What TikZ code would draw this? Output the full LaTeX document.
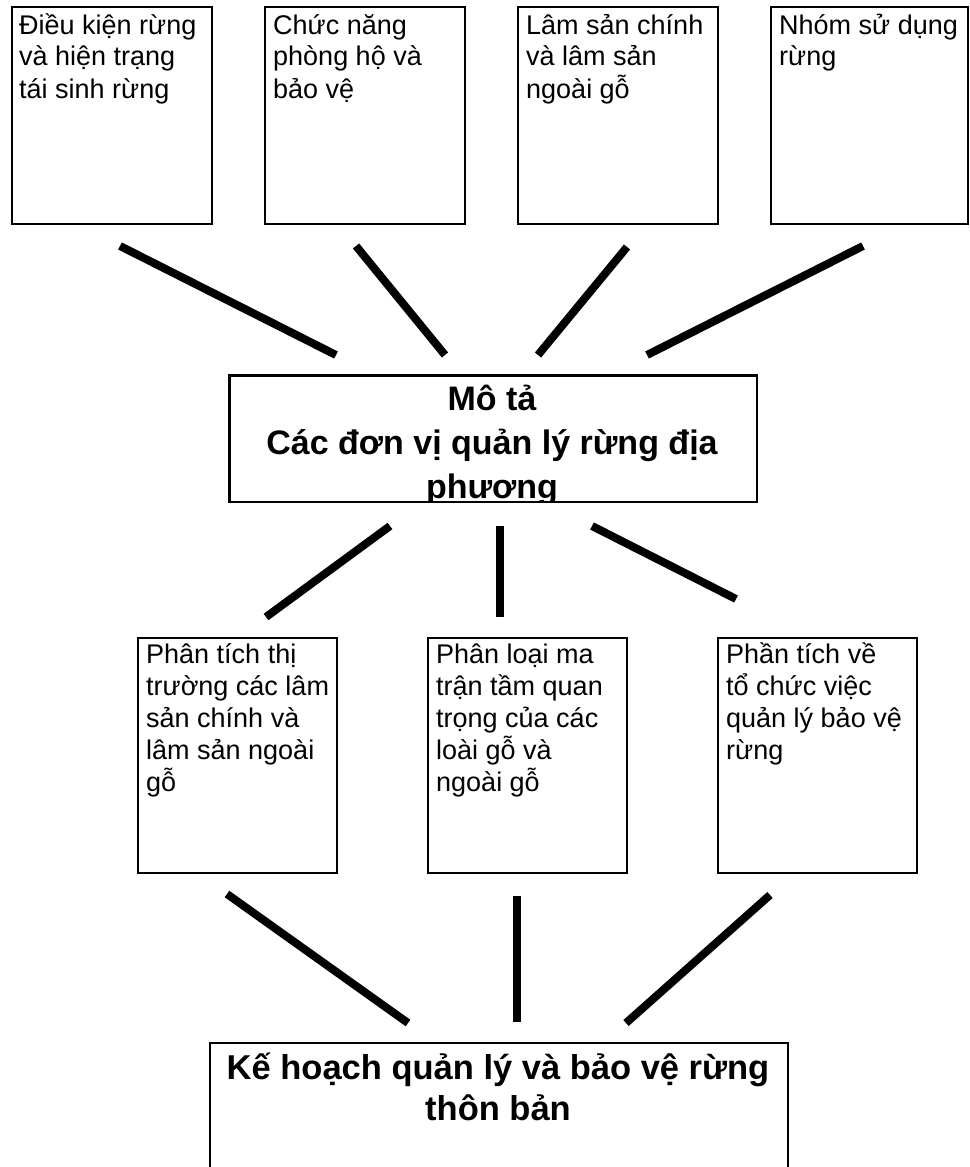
\documentclass[tikz,border=0pt]{standalone}
\usepackage{fontspec}
\setmainfont{Liberation Sans}
\newcommand{\lefttext}[1]{\parbox[t]{195pt}{\raggedright #1}}
\newcommand{\midtext}[1]{\parbox[t]{570pt}{\centering #1}}
\begin{document}
\begin{tikzpicture}[x=1pt,y=-1pt,
  box/.style={draw=black, line width=1.5pt, fill=white, inner sep=0pt, anchor=north west},
  smallbox/.style={box, minimum width=200pt, minimum height=217pt},
  midbox/.style={box, minimum width=199pt, minimum height=235pt},
  txt/.style={anchor=base west, inner sep=0pt, font=\fontsize{27}{32}\selectfont},
  boldtxt/.style={anchor=base, inner sep=0pt, font=\bfseries\fontsize{34}{44}\selectfont},
  link/.style={line width=8pt, black}]
\useasboundingbox (0,0) rectangle (969,1167);
% top boxes
\node[smallbox] (b1) at (11,6) {};
\node[smallbox] (b2) at (264,6) {};
\node[smallbox] (b3) at (517,6) {};
\node[smallbox, minimum width=197pt] (b4) at (770,6) {};
\node[txt] (b1t) at (19,34) {\lefttext{Điều kiện rừng\\và hiện trạng\\tái sinh rừng}};
\node[txt] (b2t) at (273,34) {\lefttext{Chức năng\\phòng hộ và\\bảo vệ}};
\node[txt] (b3t) at (526,34) {\lefttext{Lâm sản chính\\và lâm sản\\ngoài gỗ}};
\node[txt] (b4t) at (779,34) {\lefttext{Nhóm sử dụng\\rừng}};
% centre box
\node[box, minimum width=527pt, minimum height=126pt] (c) at (229,375) {};
\begin{scope}
\clip (c.north west) rectangle (c.south east);
\node[boldtxt] (ct) at (492,410) {\midtext{Mô tả\\Các đơn vị quản lý rừng địa\\phương}};
\end{scope}
\draw[line width=1.5pt] (c.north west) rectangle (c.south east);
% middle boxes
\node[midbox] (m1) at (137,637) {};
\node[midbox] (m2) at (427,637) {};
\node[midbox] (m3) at (717,637) {};
\node[txt] (m1t) at (146,663) {\lefttext{Phân tích thị\\trường các lâm\\sản chính và\\lâm sản ngoài\\gỗ}};
\node[txt] (m2t) at (436,663) {\lefttext{Phân loại ma\\trận tầm quan\\trọng của các\\loài gỗ và\\ngoài gỗ}};
\node[txt] (m3t) at (726,663) {\lefttext{Phần tích về\\tổ chức việc\\quản lý bảo vệ\\rừng}};
% bottom box
\node[box, minimum width=578pt, minimum height=140pt] (k) at (209,1042) {};
\node[boldtxt, font=\bfseries\fontsize{34.5}{41}\selectfont] (kt) at (498,1079) {\midtext{Kế hoạch quản lý và bảo vệ rừng\\thôn bản}};
% connector end points
\coordinate (l1a) at (120,246); \coordinate (l1b) at (336,355);
\coordinate (l2a) at (356,246); \coordinate (l2b) at (445,355);
\coordinate (l3a) at (627,247); \coordinate (l3b) at (538,355);
\coordinate (l4a) at (863,246); \coordinate (l4b) at (647,355);
\coordinate (l5a) at (390,526); \coordinate (l5b) at (266,617);
\coordinate (l6a) at (500,526); \coordinate (l6b) at (500,617);
\coordinate (l7a) at (592,526); \coordinate (l7b) at (736,599);
\coordinate (l8a) at (227,894); \coordinate (l8b) at (408,1023);
\coordinate (l9a) at (517,896); \coordinate (l9b) at (517,1022);
\coordinate (l10a) at (770,895); \coordinate (l10b) at (626,1023);
\draw[link] (l1a) -- (l1b);
\draw[link] (l2a) -- (l2b);
\draw[link] (l3a) -- (l3b);
\draw[link] (l4a) -- (l4b);
\draw[link] (l5a) -- (l5b);
\draw[link] (l6a) -- (l6b);
\draw[link] (l7a) -- (l7b);
\draw[link] (l8a) -- (l8b);
\draw[link] (l9a) -- (l9b);
\draw[link] (l10a) -- (l10b);
\end{tikzpicture}
\end{document}
